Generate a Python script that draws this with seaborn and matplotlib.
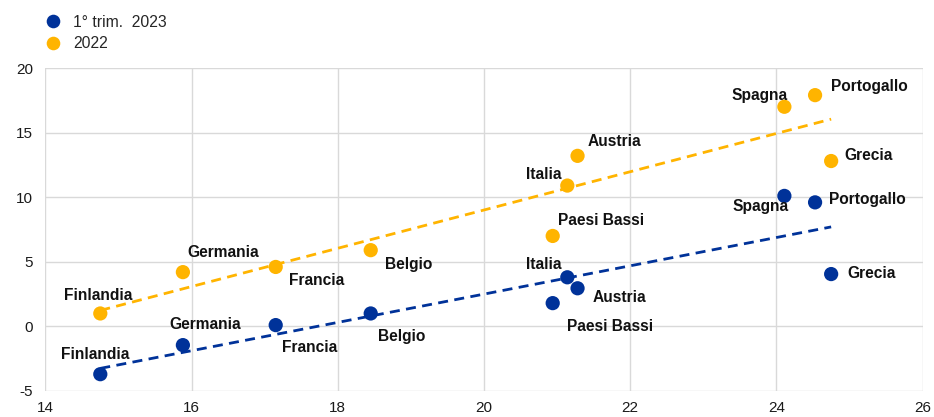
import numpy as np
import pandas as pd
import matplotlib
matplotlib.use("Agg")
import matplotlib.pyplot as plt
import seaborn as sns
from matplotlib.lines import Line2D

countries = ["Finlandia", "Germania", "Francia", "Belgio", "Paesi Bassi",
             "Italia", "Austria", "Spagna", "Portogallo", "Grecia"]
x_vals = [14.75, 15.88, 17.15, 18.45, 20.94, 21.14, 21.28, 24.11, 24.53, 24.75]
y_2022 = [1.0, 4.2, 4.6, 5.9, 7.0, 10.9, 13.2, 17.0, 17.9, 12.8]
y_2023q1 = [-3.7, -1.45, 0.1, 1.0, 1.8, 3.8, 2.95, 10.1, 9.6, 4.05]
series_names = ["1° trim.  2023", "2022"]
x_ticks = [14, 16, 18, 20, 22, 24, 26]
y_ticks = [-5, 0, 5, 10, 15, 20]

colors = {"1° trim.  2023": "#003299", "2022": "#FFB400"}

df = pd.concat([
    pd.DataFrame({"x": x_vals, "y": y_2023q1, "country": countries, "serie": series_names[0]}),
    pd.DataFrame({"x": x_vals, "y": y_2022, "country": countries, "serie": series_names[1]}),
], ignore_index=True)

sns.set_theme(style="white")
plt.rcParams["font.family"] = ["Liberation Sans", "DejaVu Sans"]
plt.rcParams["axes.unicode_minus"] = False

fig = plt.figure(figsize=(9.34, 4.17), dpi=100)
ax = fig.add_axes([0.0487, 0.0624, 0.939, 0.7745])

for s in series_names:
    sub = df[df["serie"] == s]
    sns.regplot(data=sub, x="x", y="y", ax=ax, ci=None, scatter=False,
                color=colors[s], line_kws=dict(linestyle=(0, (3.6, 2.3)), linewidth=2.0, zorder=2))

sns.scatterplot(data=df, x="x", y="y", hue="serie", palette=colors,
                hue_order=series_names, s=105, edgecolor="none", ax=ax, zorder=3, legend=False)

# label offsets in pixels (dx, dy, ha)
lab_2022 = {
    "Finlandia": (-2, 18, "center"), "Germania": (4, 20, "left"), "Francia": (13, -14, "left"),
    "Belgio": (14, -14, "left"), "Paesi Bassi": (5, 15, "left"), "Italia": (-6, 11, "right"),
    "Austria": (10, 14, "left"), "Spagna": (3, 11, "right"), "Portogallo": (16, 9, "left"),
    "Grecia": (13, 6, "left"),
}
lab_2023 = {
    "Finlandia": (-5, 20, "center"), "Germania": (22, 21, "center"), "Francia": (6, -22, "left"),
    "Belgio": (7, -23, "left"), "Paesi Bassi": (14, -23, "left"), "Italia": (-6, 13, "right"),
    "Austria": (15, -9, "left"), "Spagna": (4, -11, "right"), "Portogallo": (14, 3, "left"),
    "Grecia": (16, 1, "left"),
}
for s, labs in ((series_names[0], lab_2023), (series_names[1], lab_2022)):
    sub = df[df["serie"] == s]
    for _, r in sub.iterrows():
        dx, dy, ha = labs[r["country"]]
        ax.annotate(r["country"], (r["x"], r["y"]), xytext=(dx, dy), textcoords="offset pixels",
                    ha=ha, va="center", fontsize=11.2, fontweight="bold", color="#111111", zorder=4)

ax.set_xlim(14, 26)
ax.set_ylim(-5, 20)
ax.set_xticks(x_ticks)
ax.set_yticks(y_ticks)
ax.set_xlabel("")
ax.set_ylabel("")
ax.grid(True, color="#d9d9d9", linewidth=1.0)
ax.set_axisbelow(True)
for sp in ax.spines.values():
    sp.set_visible(False)
ax.tick_params(axis="both", length=0, labelsize=11, colors="#1a1a1a")
ax.tick_params(axis="y", pad=9)
ax.tick_params(axis="x", pad=7)

handles = [Line2D([], [], marker="o", linestyle="none", markersize=9.8,
                  markerfacecolor=colors[s], markeredgecolor="none") for s in series_names]
fig.legend(handles, series_names, loc="upper left", bbox_to_anchor=(0.047, 0.965),
           frameon=False, fontsize=11.3, handletextpad=0.65, labelspacing=0.42,
           handlelength=1.2, borderaxespad=0.0, borderpad=0.0)

fig.savefig("out.png", dpi=100)
